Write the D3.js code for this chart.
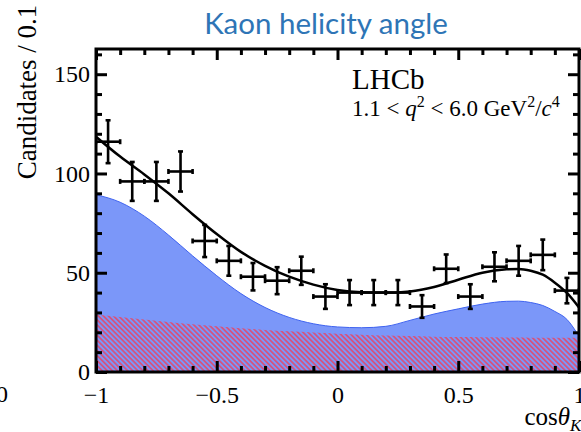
<!DOCTYPE html>
<html>
<head>
<meta charset="utf-8">
<script src="https://cdn.jsdelivr.net/npm/d3@7"></script>
<style>
  body { margin: 0; background: #fff; }
  svg { display: block; }
  .serif { font-family: "Liberation Serif", "DejaVu Serif", serif; fill: #000; }
</style>
</head>
<body>
<svg id="chart" width="581" height="432"></svg>
<script>
// Measured candidates per bin of cos(theta_K), bin width 0.1
const binCenters = [-0.95, -0.85, -0.75, -0.65, -0.55, -0.45, -0.35, -0.25, -0.15, -0.05,
                     0.05,  0.15,  0.25,  0.35,  0.45,  0.55,  0.65,  0.75,  0.85,  0.95];
const counts      = [116, 96, 96, 101, 66, 56, 48, 46, 51, 38,
                      40, 40, 40,  33, 52, 38, 53, 56, 59, 41];
const countErrors = [10.8, 9.8, 9.8, 10.1, 8.1, 7.5, 6.9, 6.8, 7.1, 6.2,
                      6.3, 6.3, 6.3,  5.7, 7.2, 6.2, 7.3, 7.5, 7.7, 6.4];
const binHalfWidth = 0.05;

// Fit model evaluated along cos(theta_K)
const curveX     = [-1.0, -0.9, -0.8, -0.7, -0.6, -0.5, -0.4, -0.3, -0.2, -0.1, 0.0,
                     0.1, 0.2, 0.3, 0.4, 0.5, 0.6, 0.7, 0.75, 0.8, 0.85, 0.9, 0.95, 1.0];
const totalFit   = [118.5, 108.5, 99.5, 90, 79.5, 69.5, 60.5, 53.5, 48, 44, 41.3,
                    40.2, 40, 40.6, 42.8, 46.5, 50, 51.7, 51.9, 51, 49, 45, 39.8, 32.5];
const signalPart = [89.3, 85.5, 78.5, 69, 58.5, 48.5, 39.5, 32.5, 27.5, 24.3, 22.7,
                    22.3, 23, 26, 29.2, 31.8, 34.2, 35.6, 35.7, 35, 33.5, 30.5, 26.5, 18];
const bkgPart    = [29, 27.7, 26.5, 25.2, 24, 23, 22, 21.2, 20.5, 19.9, 19.3,
                    18.8, 18.4, 18.1, 17.8, 17.6, 17.5, 17.4, 17.35, 17.3, 17.3, 17.25, 17.2, 17.2];

const xMajorTicks  = [-1, -0.5, 0, 0.5, 1];
const xMajorLabels = ["\u22121", "\u22120.5", "0", "0.5", "1"];
const xMinorTicks  = d3.range(-0.9, 1.0, 0.1).map(v => +v.toFixed(2)).filter(v => !xMajorTicks.includes(v));
const yMajorTicks  = [0, 50, 100, 150];
const yMajorLabels = ["0", "50", "100", "150"];
const yMinorTicks  = [10, 20, 30, 40, 60, 70, 80, 90, 110, 120, 130, 140, 160];

const svg = d3.select("#chart");
const plot = { left: 96, right: 579, top: 49, bottom: 372 };

const x = d3.scaleLinear().domain([-1, 1]).range([plot.left, plot.right]);
const y = d3.scaleLinear().domain([0, 162.7]).range([plot.bottom, plot.top]);

const defs = svg.append("defs");
defs.append("clipPath").attr("id", "plotClip")
  .append("rect")
  .attr("x", plot.left).attr("y", plot.top)
  .attr("width", plot.right - plot.left).attr("height", plot.bottom - plot.top);

const hatch = defs.append("pattern")
  .attr("id", "hatch")
  .attr("patternUnits", "userSpaceOnUse")
  .attr("width", 3.6).attr("height", 3.6)
  .attr("patternTransform", "rotate(-45)");
hatch.append("line")
  .attr("x1", 0.9).attr("y1", 0).attr("x2", 0.9).attr("y2", 3.6)
  .attr("stroke", "#e2486a").attr("stroke-width", 1.5);

// Title
svg.append("text")
  .attr("x", 326).attr("y", 34)
  .attr("text-anchor", "middle")
  .attr("font-family", "Lato, 'Open Sans', sans-serif")
  .attr("font-size", 29.5)
  .attr("fill", "#2e75b6")
  .text("Kaon helicity angle");

const plotG = svg.append("g").attr("clip-path", "url(#plotClip)");

// Signal component (blue)
const pts = curveX.map((cx, i) => ({ x: cx, tot: totalFit[i], sig: signalPart[i], bkg: bkgPart[i] }));
plotG.append("path")
  .datum(pts)
  .attr("fill", "#7b97f9")
  .attr("stroke", "#3f63f0")
  .attr("stroke-width", 1)
  .attr("d", d3.area().x(d => x(d.x)).y0(y(0)).y1(d => y(d.sig)).curve(d3.curveMonotoneX));

// Background component (hatched)
plotG.append("path")
  .datum(pts)
  .attr("fill", "url(#hatch)")
  .attr("d", d3.area().x(d => x(d.x)).y0(y(0)).y1(d => y(d.bkg)).curve(d3.curveMonotoneX));

// Total fit
plotG.append("path")
  .datum(pts)
  .attr("fill", "none")
  .attr("stroke", "#000")
  .attr("stroke-width", 2.5)
  .attr("d", d3.line().x(d => x(d.x)).y(d => y(d.tot)).curve(d3.curveMonotoneX));

// Data points with error bars
const data = binCenters.map((c, i) => ({ c, n: counts[i], e: countErrors[i] }));
const pg = plotG.append("g").attr("stroke", "#000").attr("stroke-width", 2.6);
const cap = 2.5;
data.forEach(d => {
  const cx = x(d.c), cy = y(d.n);
  const x0 = x(d.c - binHalfWidth), x1 = x(d.c + binHalfWidth);
  const yt = y(d.n + d.e), yb = y(d.n - d.e);
  pg.append("line").attr("x1", x0).attr("x2", x1).attr("y1", cy).attr("y2", cy);
  pg.append("line").attr("x1", cx).attr("x2", cx).attr("y1", yt).attr("y2", yb);
  pg.append("line").attr("x1", cx - cap).attr("x2", cx + cap).attr("y1", yt).attr("y2", yt);
  pg.append("line").attr("x1", cx - cap).attr("x2", cx + cap).attr("y1", yb).attr("y2", yb);
  pg.append("line").attr("x1", x0).attr("x2", x0).attr("y1", cy - cap).attr("y2", cy + cap);
  pg.append("line").attr("x1", x1).attr("x2", x1).attr("y1", cy - cap).attr("y2", cy + cap);
});

// Axes: ticks point into the frame on all four sides
function styleAxis(g) {
  g.select(".domain").remove();
  g.selectAll(".tick line").attr("stroke", "#000").attr("stroke-width", 3);
  g.selectAll(".tick text")
    .attr("font-family", "'Liberation Serif', 'DejaVu Serif', serif")
    .attr("font-size", 24).attr("fill", "#000");
}
const majorLen = 11, minorLen = 6;

svg.append("g").attr("transform", `translate(0,${plot.bottom})`)
  .call(d3.axisBottom(x).tickValues(xMajorTicks).tickSize(-majorLen).tickPadding(14)
        .tickFormat((d, i) => xMajorLabels[i]))
  .call(styleAxis);
svg.append("g").attr("transform", `translate(0,${plot.bottom})`)
  .call(d3.axisBottom(x).tickValues(xMinorTicks).tickSize(-minorLen).tickFormat(""))
  .call(styleAxis);
svg.append("g").attr("transform", `translate(0,${plot.top})`)
  .call(d3.axisTop(x).tickValues(xMajorTicks).tickSize(-majorLen).tickFormat(""))
  .call(styleAxis);
svg.append("g").attr("transform", `translate(0,${plot.top})`)
  .call(d3.axisTop(x).tickValues(xMinorTicks).tickSize(-minorLen).tickFormat(""))
  .call(styleAxis);

svg.append("g").attr("transform", `translate(${plot.left},0)`)
  .call(d3.axisLeft(y).tickValues(yMajorTicks).tickSize(-majorLen).tickPadding(6)
        .tickFormat((d, i) => yMajorLabels[i]))
  .call(styleAxis);
svg.append("g").attr("transform", `translate(${plot.left},0)`)
  .call(d3.axisLeft(y).tickValues(yMinorTicks).tickSize(-minorLen).tickFormat(""))
  .call(styleAxis);
svg.append("g").attr("transform", `translate(${plot.right},0)`)
  .call(d3.axisRight(y).tickValues(yMajorTicks).tickSize(-majorLen).tickFormat(""))
  .call(styleAxis);
svg.append("g").attr("transform", `translate(${plot.right},0)`)
  .call(d3.axisRight(y).tickValues(yMinorTicks).tickSize(-minorLen).tickFormat(""))
  .call(styleAxis);

// Frame
svg.append("rect")
  .attr("x", plot.left).attr("y", plot.top)
  .attr("width", plot.right - plot.left).attr("height", plot.bottom - plot.top)
  .attr("fill", "none").attr("stroke", "#000").attr("stroke-width", 3);

// Axis titles
svg.append("text").attr("class", "serif")
  .attr("transform", "translate(36,92) rotate(-90)")
  .attr("text-anchor", "middle")
  .attr("font-size", 27)
  .text("Candidates / 0.1");

const xl = svg.append("text").attr("class", "serif")
  .attr("x", 570).attr("y", 425)
  .attr("text-anchor", "end")
  .attr("font-size", 25);
xl.append("tspan").text("cos");
xl.append("tspan").attr("font-style", "italic").text("\u03b8");
svg.append("text").attr("class", "serif")
  .attr("x", 570).attr("y", 431)
  .attr("font-size", 17).attr("font-style", "italic")
  .text("K");

// Stray label from the adjacent panel
svg.append("text").attr("class", "serif")
  .attr("x", 8).attr("y", 402)
  .attr("text-anchor", "end")
  .attr("font-size", 24)
  .text("0");

// Experiment and kinematic range labels
svg.append("text").attr("class", "serif")
  .attr("x", 352).attr("y", 89)
  .attr("font-size", 29)
  .text("LHCb");

const q = svg.append("text").attr("class", "serif")
  .attr("x", 352).attr("y", 116)
  .attr("font-size", 23);
q.append("tspan").text("1.1 < ");
q.append("tspan").attr("font-style", "italic").text("q");
q.append("tspan").attr("font-size", 16).attr("dy", -9).text("2");
q.append("tspan").attr("dy", 9).text(" < 6.0 GeV");
q.append("tspan").attr("font-size", 16).attr("dy", -9).text("2");
q.append("tspan").attr("dy", 9).text("/");
q.append("tspan").attr("font-style", "italic").text("c");
q.append("tspan").attr("font-size", 16).attr("dy", -9).text("4");
</script>
</body>
</html>
